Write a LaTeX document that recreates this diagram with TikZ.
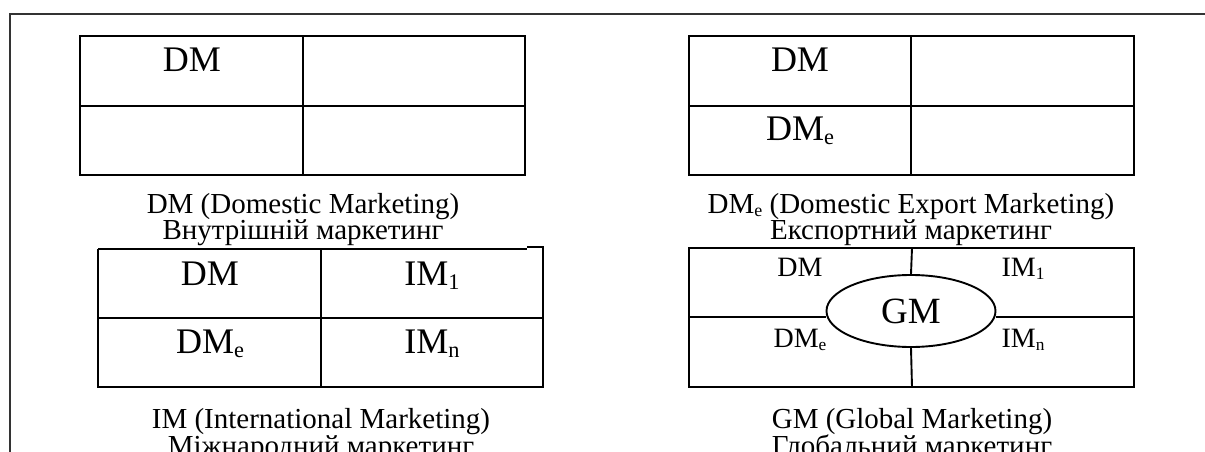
\documentclass[tikz,border=0pt]{standalone}
\usepackage{fontspec}
\setmainfont{Liberation Serif}
\usetikzlibrary{shapes.geometric}
\newcommand\sbx[1]{\raisebox{-0.12em}{\scalebox{0.62}{#1}}}
\begin{document}
\begin{tikzpicture}[x=1pt,y=-1pt,
  tbl/.style={draw=black,line width=1.9pt},
  frameline/.style={draw=black!80,line width=1.9pt},
  big/.style={font=\fontsize{36}{40}\selectfont,inner sep=0pt,anchor=base},
  small/.style={font=\fontsize{28}{32}\selectfont,inner sep=0pt,anchor=base},
  captxt/.style={font=\fontsize{29}{32}\selectfont,inner sep=0pt,anchor=base},
  gmell/.style={ellipse,draw=black,line width=1.9pt,fill=white,minimum width=169pt,minimum height=72pt,inner sep=0pt,font=\fontsize{37}{40}\selectfont}
]
\useasboundingbox (0,0) rectangle (1205,452);

% outer frame
\coordinate (fbl) at (10,452);
\coordinate (ftl) at (10,14);
\coordinate (ftr) at (1205,14);
\draw[frameline] (fbl) -- (ftl) -- (ftr);

% table 1 (DM)
\draw[tbl] (80,36) rectangle (525,175);
\draw[tbl] (303,36) -- (303,175);
\draw[tbl] (80,106) -- (525,106);
\node[big] (t1a) at (192,72) {DM};
\node[captxt] (c1a) at (303,213) {DM (Domestic Marketing)};
\node[captxt] (c1b) at (303,239) {Внутрішній маркетинг};

% table 2 (DMe)
\draw[tbl] (689,36) rectangle (1134,175);
\draw[tbl] (911,36) -- (911,175);
\draw[tbl] (689,106) -- (1134,106);
\node[big] (t2a) at (800,72) {DM};
\node[big] (t2c) at (800,140) {DM\sbx{e}};
\node[captxt] (c2a) at (911,213) {DM\sbx{e} (Domestic Export Marketing)};
\node[captxt] (c2b) at (911,239) {Експортний маркетинг};

% table 3 (IM)
\draw[tbl] (98,249) -- (527,249);
\draw[tbl] (98,249) -- (98,387) -- (543,387) -- (543,247) -- (527,247);
\draw[tbl] (321,249) -- (321,387);
\draw[tbl] (98,318) -- (543,318);
\node[big] (t3a) at (210,285) {DM};
\node[big] (t3b) at (432,285) {IM\sbx{1}};
\node[big] (t3c) at (210,353) {DM\sbx{e}};
\node[big] (t3d) at (432,353) {IM\sbx{n}};
\node[captxt] (c3a) at (321,428) {IM (International Marketing)};
\node[captxt] (c3b) at (321,455) {Міжнародний маркетинг};

% table 4 (GM)
\draw[tbl] (689,248) rectangle (1134,387);
\coordinate (t4top) at (912,248);
\coordinate (t4bot) at (912,387);
\coordinate (t4left) at (689,317);
\coordinate (t4right) at (1134,317);
\node[gmell] (gm) at (911,311) {GM};
\draw[tbl] (t4top) -- (gm.north);
\draw[tbl] (gm.south) -- (t4bot);
\draw[tbl] (t4left) -- (gm.west |- t4left);
\draw[tbl] (gm.east |- t4right) -- (t4right);
\node[small] (t4a) at (800,276) {DM};
\node[small] (t4b) at (1023,276) {IM\sbx{1}};
\node[small] (t4c) at (800,347) {DM\sbx{e}};
\node[small] (t4d) at (1023,347) {IM\sbx{n}};
\node[captxt] (c4a) at (912,428) {GM (Global Marketing)};
\node[captxt] (c4b) at (912,455) {Глобальний маркетинг};
\end{tikzpicture}
\end{document}
